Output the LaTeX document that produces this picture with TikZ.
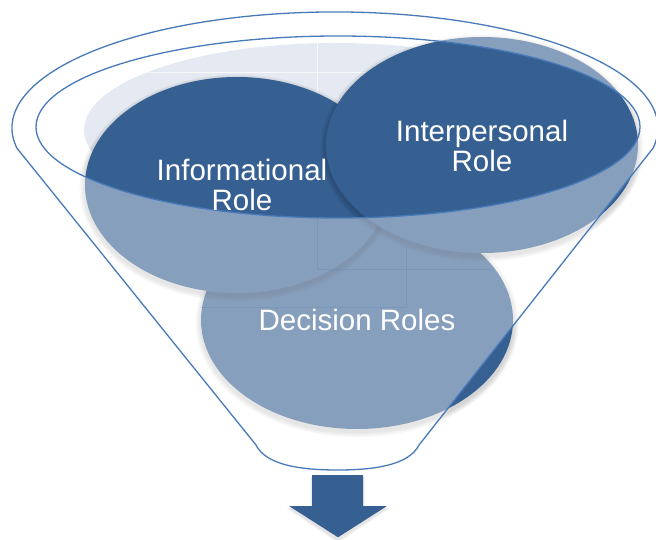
\documentclass[tikz,border=0pt]{standalone}
\usepackage{fontspec}
\setmainfont{Liberation Sans}
\usetikzlibrary{shapes.geometric}
\definecolor{dkblue}{RGB}{54,96,146}
\definecolor{lnblue}{RGB}{72,122,186}
\definecolor{bgblue}{RGB}{228,233,242}
\tikzset{
  role/.style={ellipse, fill=dkblue, inner sep=0pt, outer sep=0pt},
  rolelabel/.style={text=white, align=center, font=\fontsize{29.5}{29.5}\selectfont, inner sep=0pt},
  funnelline/.style={draw=lnblue, line width=1.3pt},
  faint/.style={draw=dkblue, opacity=0.13, line width=0.6pt},
  faintlight/.style={draw=white, opacity=0.7, line width=0.6pt},
  shade/.style={fill=black, opacity=0.035}
}
\begin{document}
\begin{tikzpicture}[x=1pt,y=1pt]
\useasboundingbox (0,0) rectangle (656,539);
% inner surface of the funnel
\fill[bgblue] (335,409) ellipse [x radius=251, y radius=87];
\begin{scope}
\clip (335,409) ellipse [x radius=251, y radius=87];
\draw[faintlight] (317,496) -- (317,330);
\draw[faintlight] (84,467) -- (586,467);
\end{scope}
% Decision Roles
\foreach \i in {1,...,5} \fill[shade] (357,216) ellipse [x radius=156+\i*1.1, y radius=109+\i*1.1];
\node[role, minimum width=312pt, minimum height=218pt] (decision) at (357,219) {};
% Informational Role
\foreach \i in {1,...,5} \fill[shade] (237,351) ellipse [x radius=152+\i*1.1, y radius=108+\i*1.1];
\node[role, minimum width=304pt, minimum height=216pt] (info) at (237,354) {};
% Interpersonal Role
\foreach \i in {1,...,5} \fill[shade] (482,391) ellipse [x radius=156+\i*1.1, y radius=108+\i*1.1];
\node[role, minimum width=312pt, minimum height=216pt] (inter) at (482,394) {};
% translucent funnel body
\fill[white, opacity=0.4, even odd rule]
  (16.9,390.9) arc[start angle=190, end angle=-10, x radius=323, y radius=116]
  -- (419,94) .. controls (409,74) and (375,69) .. (337.5,69)
  .. controls (300,69) and (266,74) .. (256,94) -- cycle
  (338,412) ellipse [x radius=302, y radius=91];
% funnel outlines
\draw[funnelline, line join=round]
  (16.9,390.9) arc[start angle=190, end angle=-10, x radius=323, y radius=116]
  -- (419,94) .. controls (409,74) and (375,69) .. (337.5,69)
  .. controls (300,69) and (266,74) .. (256,94) -- cycle;
\draw[funnelline] (338,412) ellipse [x radius=302, y radius=91];
% faint text-box traces
\draw[faint] (317,321) -- (317,270) -- (493,270);
\draw[faint] (200,232) -- (406,232) -- (406,292);
% labels
\node[rolelabel] (infolabel) at (242,354) {Informational\\Role};
\node[rolelabel] (interlabel) at (482,393) {Interpersonal\\Role};
\node[rolelabel] (decisionlabel) at (357,219) {Decision Roles};
% output arrow
\foreach \i in {1,...,3} \fill[shade] (312-\i*0.5,62) -- (363+\i*0.5,62) -- (363+\i*0.5,31) -- (387+\i,31) -- (338,-1-\i) -- (289-\i,31) -- (312-\i*0.5,31) -- cycle;
\fill[dkblue] (312,64) -- (363,64) -- (363,33) -- (387,33) -- (338,1.7) -- (289,33) -- (312,33) -- cycle;
\end{tikzpicture}
\end{document}
